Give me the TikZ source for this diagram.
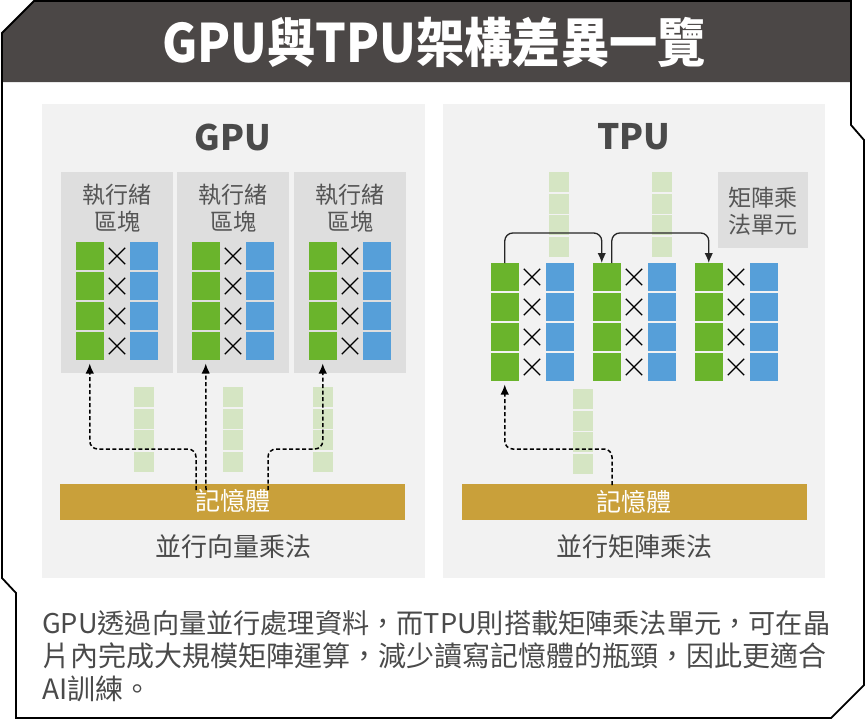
\documentclass[tikz,border=0pt]{standalone}
\usepackage{fontspec}
\newfontfamily\cjk{Noto Sans CJK TC}
\usetikzlibrary{arrows.meta,shapes.misc}
\definecolor{band}{HTML}{4B4746}
\definecolor{panelgray}{HTML}{F2F2F2}
\definecolor{blockgray}{HTML}{DEDEDE}
\definecolor{sqgreen}{HTML}{6AB42C}
\definecolor{sqblue}{HTML}{569FD9}
\definecolor{palegreen}{HTML}{D5E5C3}
\definecolor{memgold}{HTML}{C9A03A}
\definecolor{txtgray}{HTML}{4A4A4A}
\definecolor{lblgray}{HTML}{555555}
\tikzset{
  box/.style={draw=none,inner sep=0pt,outer sep=0pt,anchor=north west},
  panelbox/.style={box,fill=panelgray},
  tblock/.style={box,fill=blockgray},
  gsq/.style={box,fill=sqgreen,minimum width=27.5pt,minimum height=27.5pt},
  bsq/.style={box,fill=sqblue,minimum width=27.5pt,minimum height=27.5pt},
  palecell/.style={box,fill=palegreen,minimum width=20pt,minimum height=20pt},
  crossmark/.style={cross out,draw=black,line width=1.3pt,minimum size=15pt,inner sep=0pt},
  membar/.style={box,fill=memgold,minimum height=36pt,text=white,font={\cjk\fontsize{25}{28}\selectfont}},
  blklabel/.style={inner sep=0pt,align=center,text=lblgray,font={\cjk\fontsize{23}{27.5}\selectfont}},
  captxt/.style={inner sep=0pt,text=txtgray,font={\cjk\fontsize{26}{30}\selectfont}},
  ptitle/.style={inner sep=0pt,text=txtgray,font={\cjk\bfseries\fontsize{35}{40}\selectfont}},
  paratxt/.style={inner sep=0pt,anchor=west,text=txtgray,font={\cjk\fontsize{28}{33}\selectfont}},
  dasharrow/.style={draw=black,line width=1.5pt,dash pattern=on 4pt off 2.5pt,rounded corners=8pt,-{Latex[length=10pt,width=8.5pt]}},
  solidarrow/.style={draw=black!85,line width=1.3pt,rounded corners=8pt,-{Latex[length=10pt,width=8.5pt]}},
  frameline/.style={draw=black,line width=1.8pt,line join=miter}
}
\begin{document}
\begin{tikzpicture}[x=1pt,y=-1pt]
\useasboundingbox (0,0) rectangle (866,720);
% title band
\fill[band] (2,33) -- (34,1) -- (851,1) -- (851,82) -- (2,82) -- cycle;
\node[inner sep=0pt,text=white,font={\cjk\bfseries\fontsize{53}{56}\selectfont}] (title) at (434,42) {\scalebox{0.91}[1]{GPU與TPU架構差異一覽}};
% panels
\node[panelbox,minimum width=383pt,minimum height=474pt] (gpupanel) at (42,104) {};
\node[panelbox,minimum width=382pt,minimum height=474pt] (tpupanel) at (443,104) {};
\node[ptitle] (gputitle) at (233,137) {GPU};
\node[ptitle] (tputitle) at (634,137) {TPU};
% GPU thread blocks
\foreach \b/\bx in {1/61,2/177,3/294} {
  \node[tblock,minimum width=112pt,minimum height=201pt] (blk\b) at (\bx,172) {};
  \node[blklabel] (lbl\b) at (\bx+56,208.5) {執行緒\\區塊};
  \foreach \r in {1,...,4} {
    \node[gsq] (g\b\r) at (\bx+15,{242+30*(\r-1)}) {};
    \node[bsq] (b\b\r) at (\bx+69,{242+30*(\r-1)}) {};
    \node[crossmark] (x\b\r) at (\bx+56,{256+30*(\r-1)}) {};
  }
}
% GPU pale vectors
\foreach \c/\cx in {1/134,2/223,3/313} {
  \foreach \k in {1,...,4} {
    \node[palecell] (gp\c\k) at (\cx,{387+21.7*(\k-1)}) {};
  }
}
% GPU memory
\node[membar,minimum width=345pt] (mem1) at (60,484) {};
\node[text=white,inner sep=0pt,font={\cjk\fontsize{25}{28}\selectfont}] (mem1txt) at (233,501) {記憶體};
\node[captxt] (gpucap) at (233,547) {並行向量乘法};
% GPU dashed arrows
\coordinate (s1) at (196,490);
\coordinate (s2) at (206,490);
\coordinate (s3) at (268,490);
\draw[dasharrow] (s1) -- ++(0,-41) -| ([yshift=-4pt]g14.south);
\draw[dasharrow] (s2) -- ([yshift=-4pt]g24.south);
\draw[dasharrow] (s3) -- ++(0,-41) -| ([yshift=-4pt]g34.south);
% TPU pale vectors
\foreach \c/\cx in {1/549,2/652} {
  \foreach \k in {1,...,4} {
    \node[palecell] (tp\c\k) at (\cx,{172+21.7*(\k-1)}) {};
  }
}
\foreach \k in {1,...,4} {
  \node[palecell] (tq\k) at (573,{389+21.7*(\k-1)}) {};
}
% matrix unit label
\node[tblock,minimum width=90pt,minimum height=76pt] (mxu) at (718,172) {};
\node[blklabel] (mxulbl) at (763,211) {矩陣乘\\法單元};
% TPU units
\foreach \u/\ux in {1/491,2/593,3/695} {
  \foreach \r in {1,...,4} {
    \node[gsq] (t\u\r) at (\ux,{263+30*(\r-1)}) {};
    \node[bsq] (tb\u\r) at (\ux+55,{263+30*(\r-1)}) {};
    \node[crossmark] (tx\u\r) at (\ux+41,{277+30*(\r-1)}) {};
  }
}
\draw[solidarrow] (t11.north) -- ++(0,-30) -| ([xshift=-5pt]t21.north);
\draw[solidarrow] ([xshift=5pt]t21.north) -- ++(0,-30) -| (t31.north);
% TPU memory
\node[membar,minimum width=345pt] (mem2) at (462,484) {};
\node[text=white,inner sep=0pt,font={\cjk\fontsize{25}{28}\selectfont}] (mem2txt) at (634,502) {記憶體};
\node[captxt] (tpucap) at (634,547) {並行矩陣乘法};
\coordinate (s4) at (612,485);
\draw[dasharrow] (s4) -- ++(0,-36) -| ([yshift=-4pt]t14.south);
% paragraph
\node[paratxt] (para1) at (42,623) {\resizebox{788pt}{!}{GPU透過向量並行處理資料，而TPU則搭載矩陣乘法單元，可在晶}};
\node[paratxt] (para2) at (42,656) {片內完成大規模矩陣運算，減少讀寫記憶體的瓶頸，因此更適合};
\node[paratxt] (para3) at (42,689) {AI訓練。};
% frame
\draw[frameline] (2,33) -- (34,1) -- (851,1) -- (851,125) -- (864,140) -- (864,685) -- (831,718) -- (16,718) -- (16,593) -- (2,578) -- cycle;
\end{tikzpicture}
\end{document}
